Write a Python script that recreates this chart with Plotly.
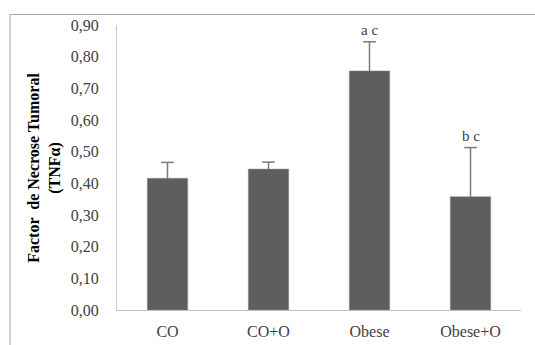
import plotly.graph_objects as go

categories = ["CO", "CO+O", "Obese", "Obese+O"]
means = [0.416, 0.445, 0.755, 0.358]
errors = [0.050, 0.022, 0.092, 0.155]
letters = ["", "", "a c", "b c"]
y_ticks = [0.0, 0.1, 0.2, 0.3, 0.4, 0.5, 0.6, 0.7, 0.8, 0.9]

SERIF = "Liberation Serif"
ERR_COLOR = "#7a7a7a"

tops = [m + e for m, e in zip(means, errors)]

fig = go.Figure()
fig.add_trace(go.Bar(
    x=categories, y=means,
    marker=dict(color="#5e5e5e", line=dict(color="#8a8a8a", width=0.5)),
    width=0.4,
    showlegend=False,
    hoverinfo="skip",
))
# upward-only error bars: vertical stem from the top down to the bar, cap as a marker
fig.add_trace(go.Scatter(
    x=categories, y=tops, mode="markers",
    marker=dict(symbol="line-ew-open", size=9, color=ERR_COLOR,
                line=dict(color=ERR_COLOR, width=1.5)),
    error_y=dict(type="data", array=[0] * len(errors), arrayminus=errors,
                 symmetric=False, color=ERR_COLOR, thickness=1.5, width=0),
    showlegend=False,
))

for c, top, t in zip(categories, tops, letters):
    if t:
        fig.add_annotation(x=c, y=top, text=t, showarrow=False,
                           xref="x", yref="y", yanchor="bottom", yshift=2,
                           font=dict(family=SERIF, size=15, color="#404040"))

# Y-axis title as two centered lines
fig.add_annotation(x=-0.18, y=0.5, xref="paper", yref="paper",
                   text="<b>Factor  de Necrose Tumoral<br>(TNFα)</b>",
                   textangle=-90, showarrow=False, align="center",
                   xanchor="center", yanchor="middle",
                   font=dict(family=SERIF, size=16, color="#000000"))

# outer border (partially cut off at right and bottom)
fig.add_shape(type="rect", xref="paper", yref="paper",
              x0=-0.2649, x1=1.06, y0=-0.2, y1=1.037,
              line=dict(color="#a6a6a6", width=1), fillcolor="rgba(0,0,0,0)",
              layer="below")

fig.update_layout(
    width=535, height=345,
    margin=dict(l=117, r=14, t=25, b=35),
    paper_bgcolor="white", plot_bgcolor="white",
    separators=",.",
    font=dict(family=SERIF, size=16, color="#404040"),
    xaxis=dict(showline=True, linecolor="#c0c0c0", linewidth=1,
               showgrid=False, ticks="", range=[-0.5, 3.5],
               ticklabelstandoff=7, automargin=False,
               tickfont=dict(family=SERIF, size=16, color="#404040")),
    yaxis=dict(showline=True, linecolor="#c8c8c8", linewidth=1,
               showgrid=False, zeroline=False, ticks="",
               range=[0, 0.9], tickvals=y_ticks, tickformat=".2f",
               ticklabelstandoff=14, automargin=False,
               tickfont=dict(family=SERIF, size=16, color="#404040")),
)

fig.write_html("out.html")
